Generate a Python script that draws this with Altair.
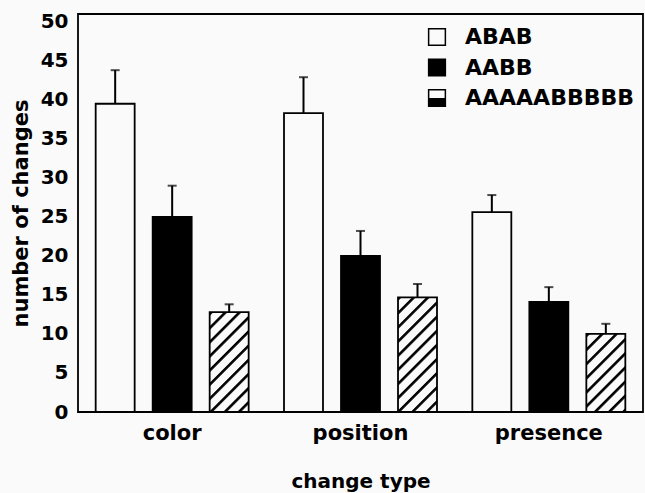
import base64
import altair as alt
import pandas as pd

categories = ["color", "position", "presence"]
series = ["ABAB", "AABB", "AAAAABBBBB"]
abab_mean = [39.5, 38.3, 25.6]
aabb_mean = [25.0, 20.0, 14.1]
a5b5_mean = [12.8, 14.7, 10.0]
abab_se = [4.3, 4.6, 2.2]
aabb_se = [4.0, 3.2, 1.9]
a5b5_se = [1.0, 1.7, 1.3]

rows = []
for s, means, ses in zip(series, [abab_mean, aabb_mean, a5b5_mean], [abab_se, aabb_se, a5b5_se]):
    for c, m, e in zip(categories, means, ses):
        rows.append({"change type": c, "sequence": s, "mean": m, "se": e})
df = pd.DataFrame(rows)

BG = "#fafafa"
FONT = "DejaVu Sans"

hatch_svg = (
    "<svg xmlns='http://www.w3.org/2000/svg' width='100%' height='100%'>"
    "<defs><pattern id='p' width='10' height='10' patternUnits='userSpaceOnUse' "
    "patternTransform='rotate(45)'>"
    f"<rect width='10' height='10' fill='{BG}'/>"
    "<rect x='0' y='0' width='2.6' height='10' fill='black'/></pattern></defs>"
    "<rect width='100%' height='100%' fill='url(#p)'/></svg>"
)
hatch_url = "data:image/svg+xml;base64," + base64.b64encode(hatch_svg.encode()).decode()

half_fill = {
    "expr": "{gradient: 'linear', x1: 0, y1: 0, x2: 0, y2: 1, stops: ["
    f"{{offset: 0, color: '{BG}'}}, {{offset: 0.5, color: '{BG}'}}, "
    "{offset: 0.5, color: 'black'}, {offset: 1, color: 'black'}]}"
}

x_enc = alt.X(
    "change type:N",
    sort=categories,
    scale=alt.Scale(paddingInner=0, paddingOuter=0),
    axis=alt.Axis(
        title="change type",
        labelAngle=0,
        ticks=False,
        domain=False,
        labelFont=FONT,
        labelFontSize=21,
        labelFontWeight="bold",
        labelColor="black",
        labelPadding=10,
        titleFont=FONT,
        titleFontSize=20,
        titleFontWeight="bold",
        titleColor="black",
        titlePadding=28,
    ),
)
xoff_enc = alt.XOffset(
    "sequence:N", sort=series, scale=alt.Scale(paddingInner=0.316, paddingOuter=0.31)
)
y_scale = alt.Scale(domain=[0, 51], nice=False)
y_axis = alt.Axis(
    title="number of changes",
    values=list(range(0, 51, 5)),
    labelOverlap=False,
    ticks=False,
    domain=False,
    grid=False,
    labelFont=FONT,
    labelFontSize=20,
    labelFontWeight="bold",
    labelColor="black",
    labelPadding=10,
    titleFont=FONT,
    titleFontSize=21,
    titleFontWeight="bold",
    titleColor="black",
    titlePadding=9,
)
y_enc = alt.Y("mean:Q", scale=y_scale, axis=y_axis)

base = alt.Chart(df)

bars = base.mark_bar().encode(
    x=x_enc,
    xOffset=xoff_enc,
    y=y_enc,
    y2=alt.datum(0),
    fill=alt.Fill(
        "sequence:N",
        sort=series,
        scale=alt.Scale(domain=series, range=[BG, "black", half_fill]),
        legend=alt.Legend(
            title=None,
            orient="none",
            legendX=348,
            legendY=12,
            padding=0,
            symbolType="square",
            symbolSize=280,
            symbolStrokeColor="black",
            symbolStrokeWidth=1.5,
            labelFont=FONT,
            labelFontSize=22,
            labelFontWeight="bold",
            labelColor="black",
            labelOffset=17,
            labelLimit=400,
            rowPadding=6.5,
        ),
    ),
)

hatch = (
    base.transform_filter(alt.datum.sequence == "AAAAABBBBB")
    .mark_image(aspect=False)
    .encode(x=x_enc, xOffset=xoff_enc, y=y_enc, y2=alt.datum(0), url=alt.value(hatch_url))
)

outline = base.mark_bar(fillOpacity=0, stroke="black", strokeWidth=1.8).encode(
    x=x_enc, xOffset=xoff_enc, y=y_enc, y2=alt.datum(0)
)

err = (
    base.transform_calculate(upper="datum.mean + datum.se")
    .mark_rule(color="black", strokeWidth=2)
    .encode(x=x_enc, xOffset=xoff_enc, y=y_enc, y2="upper:Q")
)

cap = (
    base.transform_calculate(upper="datum.mean + datum.se")
    .mark_tick(color="black", thickness=2, size=9, orient="horizontal")
    .encode(x=x_enc, xOffset=xoff_enc, y=alt.Y("upper:Q", scale=y_scale, axis=y_axis))
)

chart = (
    alt.layer(bars, hatch, outline, err, cap)
    .properties(
        width=565,
        height=398,
        background=BG,
        autosize=alt.AutoSizeParams(type="none"),
        padding={"left": 78, "top": 14, "right": 2, "bottom": 81},
    )
    .configure_view(stroke="black", strokeWidth=1.8, fill=BG)
)

chart.save("out.html", embed_options={"renderer": "svg", "actions": False})
